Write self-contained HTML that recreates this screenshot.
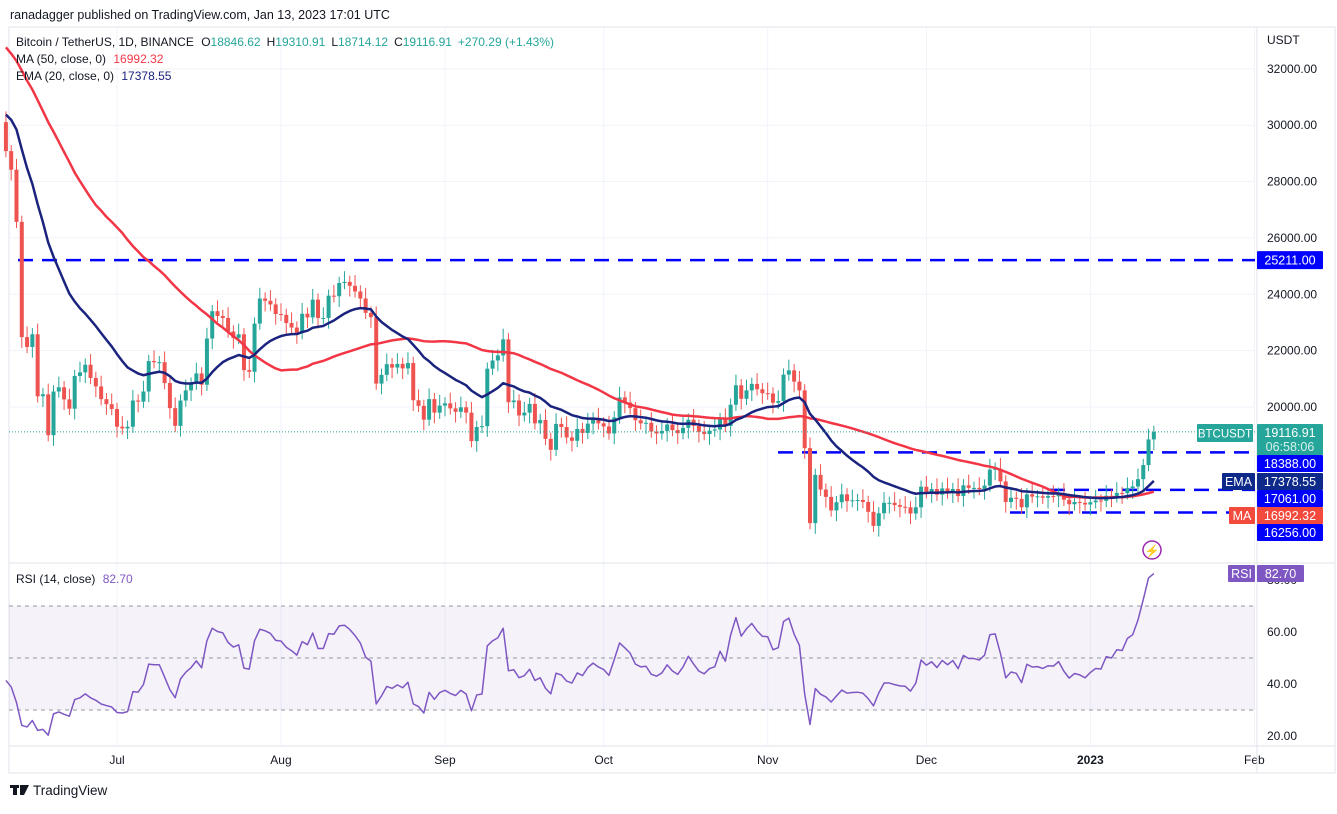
<!DOCTYPE html>
<html><head><meta charset="utf-8"><style>
body{margin:0;background:#fff;font-family:"Liberation Sans",sans-serif;}
svg text{font-family:"Liberation Sans",sans-serif;}
</style></head><body>
<svg id="c" width="1337" height="809" xmlns="http://www.w3.org/2000/svg">
<text x="10" y="19" font-size="12.5" fill="#131722">ranadagger published on TradingView.com, Jan 13, 2023 17:01 UTC</text>
<rect x="9" y="27" width="1326" height="746" fill="none" stroke="#e0e3eb"/>
<g id="grid"></g>
<g id="rsiBg"></g>
<g id="lvls"></g>
<g id="cndl"></g>
<g id="ind"></g>
<g id="axis"></g>
<g id="tags"></g>
<g font-size="12">
<text x="16" y="46" fill="#131722">Bitcoin / TetherUS, 1D, BINANCE <tspan dx="4">O</tspan><tspan fill="#26a69a">18846.62</tspan><tspan dx="6">H</tspan><tspan fill="#26a69a">19310.91</tspan><tspan dx="6">L</tspan><tspan fill="#26a69a">18714.12</tspan><tspan dx="6">C</tspan><tspan fill="#26a69a">19116.91</tspan><tspan dx="6" fill="#26a69a">+270.29 (+1.43%)</tspan></text>
<text x="16" y="63" fill="#131722">MA (50, close, 0) <tspan dx="4" fill="#f23645">16992.32</tspan></text>
<text x="16" y="80" fill="#131722">EMA (20, close, 0) <tspan dx="4" fill="#1a237e">17378.55</tspan></text>
<text x="16" y="583" fill="#131722">RSI (14, close) <tspan dx="4" fill="#7e57c2">82.70</tspan></text>
</g>
<g><rect x="10" y="785" width="9" height="3" fill="#131722"/><rect x="13" y="785" width="4" height="10" fill="#131722"/><polygon points="20,785 29,785 24,795 20,795" fill="#131722"/><text x="33" y="795" font-size="13.5" fill="#131722">TradingView</text></g>
</svg>
<script>
const pre=[40500,39700,39450,39450,40400,38100,39250,39750,38600,37700,38470,38530,37730,39700,36580,36040,35500,34060,30100,31020,28940,29050,29280,31400,31300,29900,30420,28700,30300,29200,29430,30300,29100,29650,29550,29270,28630,29030,29470,31720,31800,29800,30470,29700,29860,29910,31370,31130,30200,30110];
const closes=[29080,28420,26570,22480,22130,22580,20380,20450,19000,20550,20700,20270,19940,21100,21230,21500,21030,20730,20280,20100,19930,
19300,19240,19300,20230,20190,20550,21630,21590,21590,20850,19960,19330,20230,20590,20830,21190,20790,22430,23400,23230,23160,22680,22450,22580,21310,21250,22960,23850,23770,23640,23300,
23270,22980,22820,22620,23310,23180,23810,23160,23160,23950,23930,24400,24440,24300,24100,23850,23340,23190,20830,21140,21520,21400,21530,21370,21560,20240,20040,19550,20280,19800,20050,
20130,19950,19830,19990,19800,18790,19290,19320,21360,21650,21830,22400,20170,20230,19700,19800,20110,19420,19540,18870,18480,19400,19290,18920,18800,19220,19080,19410,19590,19420,
19310,19060,19630,20340,20160,19960,19530,19420,19440,19130,19060,19150,19380,19180,19070,19260,19550,19330,19120,19040,19160,19200,19570,19330,20080,20770,20290,20590,20820,20630,20490,
20480,20150,20210,21150,21300,20900,20590,18540,15880,17590,17070,16810,16330,16620,16900,16660,16690,16700,16630,16280,15780,16230,16600,16600,16520,16460,16440,16220,16440,17170,
16980,17090,16890,17110,16970,17090,16840,17220,17130,17130,17090,17210,17780,17810,17360,16630,16780,16740,16440,16900,16820,16830,16780,16840,16830,16920,16710,16550,16630,16600,16540,
16620,16680,16670,16850,16830,16950,16940,17120,17180,17440,17940,18850,19117];
const firstOpen=30110;
const wick=[380,220];
const priceTicks=[32000,30000,28000,26000,24000,22000,20000];
const rsiTicks=[80,60,40,20];
const months=["Jul","Aug","Sep","Oct","Nov","Dec","2023","Feb"];
const monthIdx=[21,52,83,113,144,174,205,236];
const levels=[25211,18388,17061,16256];
const levelStart=[18,778,1050,1010];

const S=document.getElementById('c');const NS='http://www.w3.org/2000/svg';
function mk(t,a,p){const e=document.createElementNS(NS,t);for(const k in a)e.setAttribute(k,a[k]);(p||S).appendChild(e);return e;}
const X=i=>117+(i-21)*5.29;
const Y=p=>407-(p-20000)*0.02818;
const RY=v=>736-(v-20)*2.6;
const R=1255;
const G=id=>document.getElementById(id);
priceTicks.forEach(p=>{const l=mk('line',{x1:9,x2:R,y1:Y(p),y2:Y(p),stroke:'#f0f3fa'},G('grid'));


const t=mk('text',{x:1267,y:Y(p)+4,'font-size':12,fill:'#131722'},G('axis'));t.textContent=p.toFixed(2);

});
monthIdx.forEach((m,k)=>{const x=X(m);
const l=mk('line',{x1:x,x2:x,y1:28,y2:746,stroke:'#f0f3fa'},G('grid'));


const t=mk('text',{x:x,y:764,'font-size':12,fill:'#131722','text-anchor':'middle','font-weight':months[k]=='2023'?'bold':'normal'},G('axis'));t.textContent=months[k];

});
mk('line',{x1:R+2,x2:R+2,y1:27,y2:773,stroke:'#e0e3eb'},G('axis'));
mk('line',{x1:9,x2:1335,y1:563,y2:563,stroke:'#e0e3eb'},G('axis'));
mk('line',{x1:9,x2:1335,y1:746,y2:746,stroke:'#e0e3eb'},G('axis'));
mk('text',{x:1267,y:44,'font-size':12,fill:'#131722'},G('axis')).textContent='USDT';
const band=mk('rect',{x:9,y:RY(70),width:R-9,height:RY(30)-RY(70),fill:'#7e57c2','fill-opacity':0.08},G('rsiBg'));


[70,50,30].forEach(v=>mk('line',{x1:9,x2:R,y1:RY(v),y2:RY(v),stroke:'#9598a1','stroke-dasharray':'4 4'},G('rsiBg')));
rsiTicks.forEach(v=>{const t=mk('text',{x:1267,y:RY(v)+4,'font-size':12,fill:'#131722'},G('axis'));t.textContent=v.toFixed(2);

});
levels.forEach((p,k)=>{const l=mk('line',{x1:levelStart[k],x2:R,y1:Y(p),y2:Y(p),stroke:'#0000ff','stroke-width':2.5,'stroke-dasharray':'15 9'},G('lvls'));

});
closes.forEach((c,i)=>{const o=i?closes[i-1]:firstOpen;const up=c>=o;const col=up?'#26a69a':'#ef5350';
const h=Math.max(o,c)+wick[i%2],l=Math.min(o,c)-wick[(i+1)%2];const x=X(i);
const g=mk('g',{},G('cndl'));


mk('line',{x1:x,x2:x,y1:Y(h),y2:Y(l),stroke:col},g);
const yt=Y(Math.max(o,c)),yb=Y(Math.min(o,c));
mk('rect',{x:x-2,y:yt,width:4,height:Math.max(1,yb-yt),fill:col},g);});
const all=pre.concat(closes);const N=pre.length;
let ema=pre[0];const k=2/21;const emaPts=[],maPts=[];
all.forEach((c,i)=>{ema=c*k+ema*(1-k);if(i>=N){const j=i-N;emaPts.push([X(j),Y(ema)]);
let s=0;for(let t=i-49;t<=i;t++)s+=all[t];maPts.push([X(j),Y(s/50)]);}});
let ag=0,al=0;const rsiPts=[];
for(let i=1;i<all.length;i++){const d=all[i]-all[i-1];const g=Math.max(d,0),l=Math.max(-d,0);
if(i<=14){ag+=g/14;al+=l/14;}else{ag=(ag*13+g)/14;al=(al*13+l)/14;}
if(i>=N){const r=100-100/(1+ag/(al||1e-9));rsiPts.push([X(i-N),RY(r)]);}}
const pl=(pts,col,w,name)=>{const e=mk('polyline',{points:pts.map(p=>p.join(',')).join(' '),fill:'none',stroke:col,'stroke-width':w,'stroke-linejoin':'round'},G('ind'));

};
pl(maPts,'#f23645',2.5,'ma50-line');
pl(emaPts,'#1a237e',2.5,'ema20-line');
pl(rsiPts,'#7e57c2',1.5,'rsi-line');
const last=closes[closes.length-1];
mk('line',{x1:9,x2:R,y1:Y(last),y2:Y(last),stroke:'#26a69a','stroke-dasharray':'1 2'},G('ind'));
function tag(x,y,w,h,bg,txt,name,fs){const g=mk('g',{},G('tags'));


mk('rect',{x:x,y:y,width:w,height:h,fill:bg,rx:1},g);
const t=mk('text',{x:x+w/2,y:y+h/2+4.5,'font-size':fs||12.5,fill:'#fff','text-anchor':'middle'},g);t.textContent=txt;return g;}
tag(R+2,Y(25211)-9,66,18,'#0000ff','25211.00','level-25211-label');
tag(1197,424,56,18,'#26a69a','BTCUSDT','symbol-tag',11.5);
const pg=tag(R+2,424,66,31,'#26a69a','','price-tag');
const t1=mk('text',{x:R+35,y:437,'font-size':12.5,fill:'#fff','text-anchor':'middle'},pg);t1.textContent='19116.91';
const t2=mk('text',{x:R+35,y:451,'font-size':12.5,fill:'#d8f0ed','text-anchor':'middle'},pg);t2.textContent='06:58:06';
tag(R+2,455,66,17,'#0000ff','18388.00','level-18388-label');
tag(1222,473,33,17,'#0d2a8a','EMA','ema-tag');
tag(R+2,473,66,17,'#0d2a8a','17378.55','ema-value-tag');
tag(R+2,490,66,17,'#0000ff','17061.00','level-17061-label');
tag(1229,507,26,17,'#f24a3d','MA','ma-tag');
tag(R+2,507,66,17,'#f24a3d','16992.32','ma-value-tag');
tag(R+2,524,66,17,'#0000ff','16256.00','level-16256-label');
tag(1228,565,27,17,'#7e57c2','RSI','rsi-tag');
tag(R+2,565,47,17,'#7e57c2','82.70','rsi-value-tag');
const fl=mk('g',{},G('tags'));


mk('circle',{cx:1152,cy:550,r:9,fill:'none',stroke:'#9c27b0','stroke-width':1.5},fl);
mk('text',{x:1152,y:555,'font-size':12,fill:'#9c27b0','text-anchor':'middle'},fl).textContent='⚡';
</script>
</body></html>
